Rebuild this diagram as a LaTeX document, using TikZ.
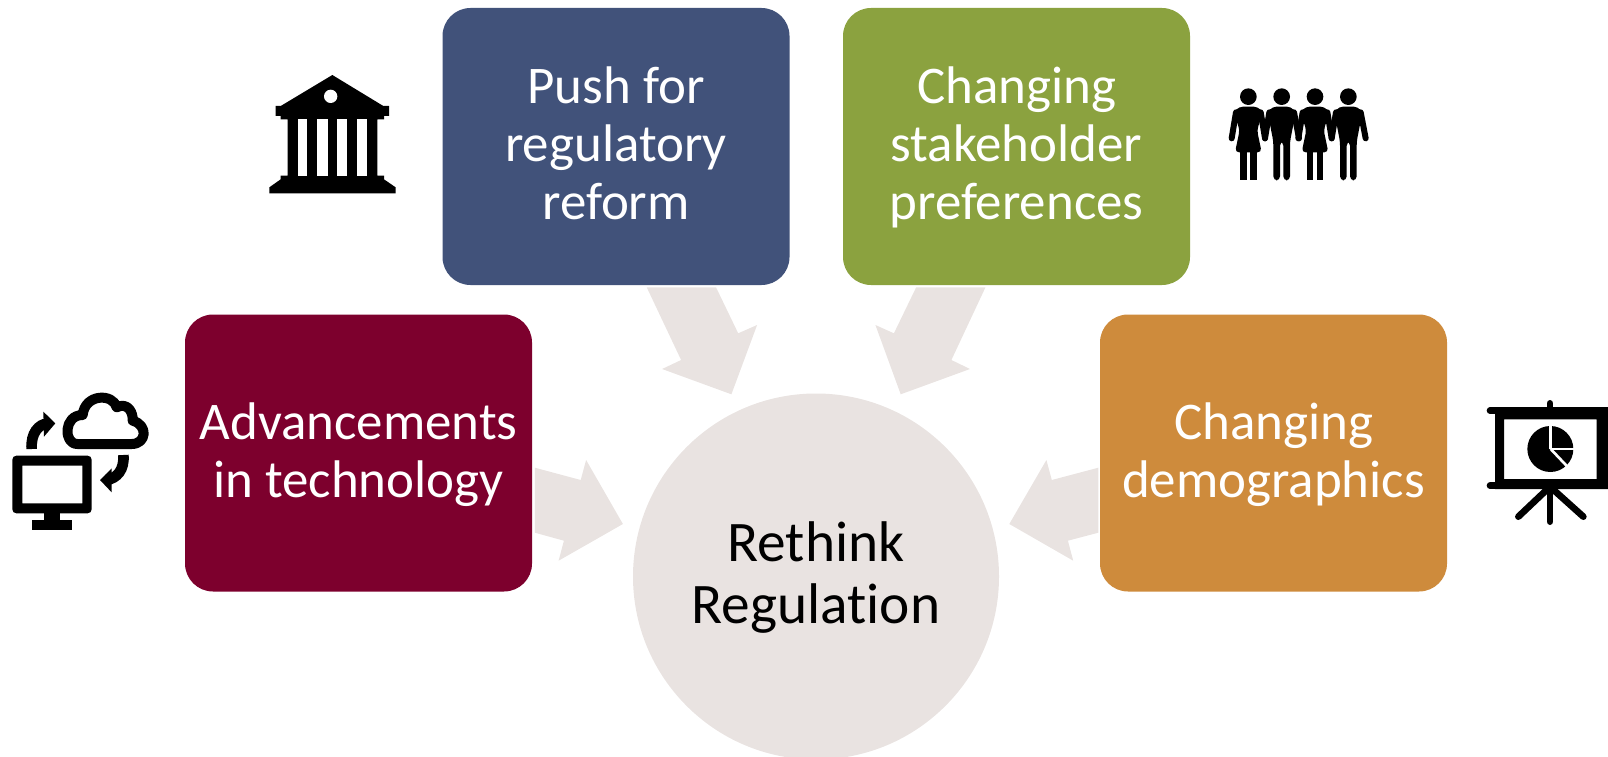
\documentclass[tikz,border=0pt]{standalone}
\usepackage{fontspec}
\usetikzlibrary{calc}
\setmainfont[Ligatures=CommonOff]{Carlito}
\definecolor{cblue}{HTML}{41527A}
\definecolor{cgreen}{HTML}{8BA23F}
\definecolor{cred}{HTML}{7D002D}
\definecolor{corange}{HTML}{CE8B3C}
\definecolor{chub}{HTML}{E9E3E1}
\newcommand{\firststrut}{\rule{0pt}{0.825\baselineskip}}
\tikzset{
  factor/.style={rectangle,rounded corners=21pt,minimum width=260.25pt,minimum height=207.75pt,inner sep=0pt,text=white,align=center,font=\fontsize{39.7}{43.5}\selectfont},
  hubnode/.style={circle,fill=chub,minimum size=274.5pt,inner sep=0pt,align=center,text=black,font=\fontsize{43}{46}\selectfont},
  flow/.style={fill=chub},
  icon/.style={x=0.25pt,y=-0.25pt},
}
\begin{document}
\begin{tikzpicture}[x=0.75pt,y=-0.75pt]
\useasboundingbox (0,0) rectangle (1608,756);
\clip (0,0) rectangle (1608,756);
% hub and factors
\node[hubnode] (hub) at (816,576.5) {\firststrut Rethink\\\strut Regulation};
\node[factor,fill=cblue] (reform) at (616,146.5) {\firststrut Push for\\regulatory\\\strut reform};
\node[factor,fill=cgreen] (stake) at (1016.5,146.5) {\firststrut Changing\\stakeholder\\\strut preferences};
\node[factor,fill=cred] (tech) at (358.5,453) {\firststrut Advancements\\\strut in technology};
\node[factor,fill=corange] (demo) at (1273.5,453) {\firststrut Changing\\\strut demographics};
% block arrows: tail at the factor, head towards the hub
\fill[flow] ($(reform.south)+(30.8,2.2)$) -- ($(reform.south)+(100.1,2.2)$) -- (738.2,333.3) -- (757.1,325) -- (731.4,394.3) -- (662.1,369) -- (681.1,360) -- cycle;
\fill[flow] ($(stake.south)+(-100.4,2.2)$) -- ($(stake.south)+(-31.1,2.2)$) -- (951.4,360) -- (970,369) -- (900.7,394.3) -- (875.4,325) -- (893.9,333.3) -- cycle;
\fill[flow] ($(tech.east)+(2.6,14.7)$) -- (580.7,480) -- (586.1,460) -- (622.9,524) -- (558.6,560.7) -- (563.9,540.7) -- ($(tech.east)+(2.6,79.7)$) -- cycle;
\fill[flow] ($(demo.west)+(-1.4,14.7)$) -- (1051.8,480) -- (1046.4,460) -- (1009.3,524) -- (1073.2,560.7) -- (1067.9,540.7) -- ($(demo.west)+(-1.4,79.7)$) -- cycle;
% computer and cloud icon
\begin{scope}[shift={(0,370)},icon]
\fill[black,rounded corners=3pt,even odd rule] (37,257) rectangle (275,430) [sharp corners] (67,287) rectangle (247,400);
\fill (132,430) rectangle (180,452);
\fill (97,450) rectangle (215,480);
\draw[line width=7.5pt,line join=round] (232,222) .. controls (190,222) and (190,135) .. (248,135) .. controls (255,70) and (340,70) .. (350,112) .. controls (385,95) and (400,130) .. (398,152) .. controls (445,165) and (440,222) .. (395,222) -- cycle;
\draw[line width=8pt] (95,237) .. controls (92,190) and (115,162) .. (145,160);
\fill (130,125) -- (166,160) -- (132,200) -- cycle;
\draw[line width=8pt] (370,255) .. controls (374,300) and (350,325) .. (320,330);
\fill (335,295) -- (300,330) -- (335,367) -- cycle;
\end{scope}
% building icon
\begin{scope}[shift={(260,60)},icon]
\fill (217,45) -- (370,138) -- (387,138) -- (387,168) -- (372,168) -- (372,178) -- (352,178) -- (352,347) -- (372,347) -- (372,358) -- (407,382) -- (407,400) -- (28,400) -- (28,382) -- (62,358) -- (62,347) -- (83,347) -- (83,178) -- (62,178) -- (62,168) -- (47,168) -- (47,138) -- (62,138) -- cycle;
\fill[white] (212,109) circle (20);
\foreach \a/\b in {113/142,172/203,232/262,292/322}{\fill[white] (\a,178) rectangle (\b,347);}
\end{scope}
% people icon
\begin{scope}[shift={(1215,70)},icon]
\foreach \c in {100,300}{
  \fill (\c,80) circle (25);
  \fill[rounded corners=3pt] (\c-44,127) -- (\c-28,110) -- (\c+28,110) -- (\c+44,127) -- (\c+26,180) -- (\c+40,247) -- (\c-40,247) -- (\c-26,180) -- cycle;
  \fill (\c-25,245) rectangle (\c-5,331);
  \fill (\c+5,245) rectangle (\c+25,331);
  \draw[line width=4.5pt,line cap=round] (\c-37,127) -- (\c-50,205);
  \draw[line width=4.5pt,line cap=round] (\c+37,127) -- (\c+50,205);
}
\foreach \c in {200,400}{
  \fill (\c,80) circle (25);
  \fill[rounded corners=3pt] (\c-42,127) -- (\c-28,110) -- (\c+28,110) -- (\c+42,127) -- (\c+25,215) -- (\c+25,331) -- (\c+5,331) -- (\c+5,215) -- (\c-5,215) -- (\c-5,331) -- (\c-25,331) -- (\c-25,215) -- cycle;
  \draw[line width=4.5pt,line cap=round] (\c-37,127) -- (\c-50,205);
  \draw[line width=4.5pt,line cap=round] (\c+37,127) -- (\c+52,205);
}
\end{scope}
% presentation icon
\begin{scope}[shift={(1470,380)},icon]
\fill[even odd rule] (75,82) rectangle (470,327) (102,118) rectangle (380,297);
\draw[line width=5pt,line cap=round] (60,92) -- (470,92);
\draw[line width=5pt,line cap=round] (60,317) -- (470,317);
\draw[line width=5pt,line cap=round] (240,70) -- (240,90);
\draw[line width=5pt,line cap=round] (240,320) -- (240,425);
\draw[line width=5pt,line cap=round] (240,320) -- (145,410);
\draw[line width=5pt,line cap=round] (240,320) -- (340,410);
\fill (241,207) circle (69);
\draw[white,line width=2pt] (242,207) -- (242,130);
\draw[white,line width=2pt] (242,207) -- (320,207);
\draw[white,line width=2pt] (242,207) -- (297,265);
\end{scope}
\end{tikzpicture}
\end{document}
